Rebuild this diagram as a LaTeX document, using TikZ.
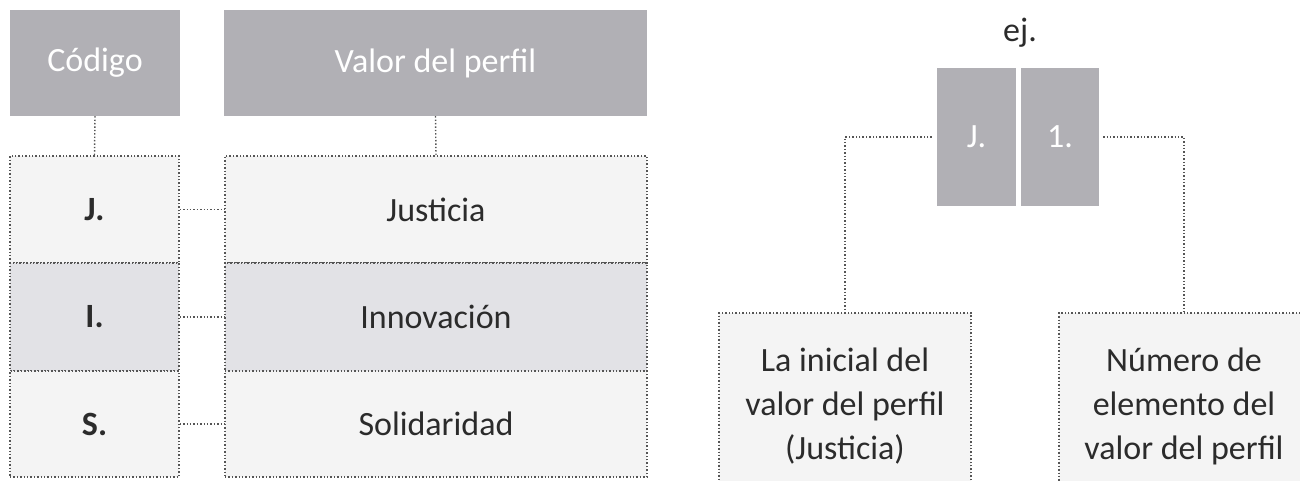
\documentclass[tikz,border=0pt]{standalone}
\usepackage{fontspec}
\setmainfont{Carlito}
\usetikzlibrary{positioning}

\definecolor{headgray}{RGB}{177,176,181}
\definecolor{lightcell}{RGB}{244,244,244}
\definecolor{midcell}{RGB}{226,226,230}
\definecolor{textdark}{RGB}{43,43,43}
\definecolor{dotgray}{RGB}{85,85,85}

\tikzset{
    head/.style={fill=headgray, text=white, inner sep=0pt, minimum height=106pt},
    dotline/.style={draw=dotgray, line width=1.4pt, dash pattern=on 1.4pt off 2pt},
    cell/.style={dotline, fill=lightcell, text=textdark, inner sep=0pt},
}

\begin{document}
\begin{tikzpicture}[x=1pt, y=1pt, font=\fontsize{34}{44}\selectfont]
    \useasboundingbox (0,0) rectangle (1300,480);

    % cabeceras
    \node[head, minimum width=170pt] (codhead) at (95,417) {Código};
    \node[head, minimum width=423pt] (valhead) at (435.5,417) {Valor del perfil};

    % filas de la tabla
    \node[cell, minimum width=169pt, minimum height=107pt] (codJ) at (94.5,270.5) {\bfseries J.};
    \node[cell, fill=midcell, minimum width=169pt, minimum height=108pt] (codI) at (94.5,163) {\bfseries I.};
    \node[cell, minimum width=169pt, minimum height=106pt] (codS) at (94.5,56) {\bfseries S.};

    \node[cell, minimum width=422pt, minimum height=107pt] (valJ) at (436,270.5) {Justicia};
    \node[cell, fill=midcell, minimum width=422pt, minimum height=108pt] (valI) at (436,163) {Innovación};
    \node[cell, minimum width=422pt, minimum height=106pt] (valS) at (436,56) {Solidaridad};

    \draw[dotline] (codhead.south) -- (codJ.north);
    \draw[dotline] (valhead.south) -- (valJ.north);
    \draw[dotline] (codJ) -- (valJ);
    \draw[dotline] (codI) -- (valI);
    \draw[dotline] (codS) -- (valS);

    % ejemplo
    \node[text=textdark] (ej) at (1020,447) {ej.};
    \node[head, minimum width=79pt, minimum height=138pt] (exJ) at (976.5,343) {J.};
    \node[head, minimum width=78pt, minimum height=138pt] (exnum) at (1060,343) {1.};

    \node[cell, minimum width=252pt, minimum height=187pt, align=center] (inicial) at (845,73.5)
        {La inicial del\\valor del perfil\\(Justicia)};
    \node[cell, minimum width=250pt, minimum height=187pt, align=center] (numero) at (1184,73.5)
        {Número de\\elemento del\\valor del perfil};

    \draw[dotline] ([xshift=-5pt]exJ.west) -| (inicial.north);
    \draw[dotline] ([xshift=4pt]exnum.east) -| (numero.north);
\end{tikzpicture}
\end{document}
